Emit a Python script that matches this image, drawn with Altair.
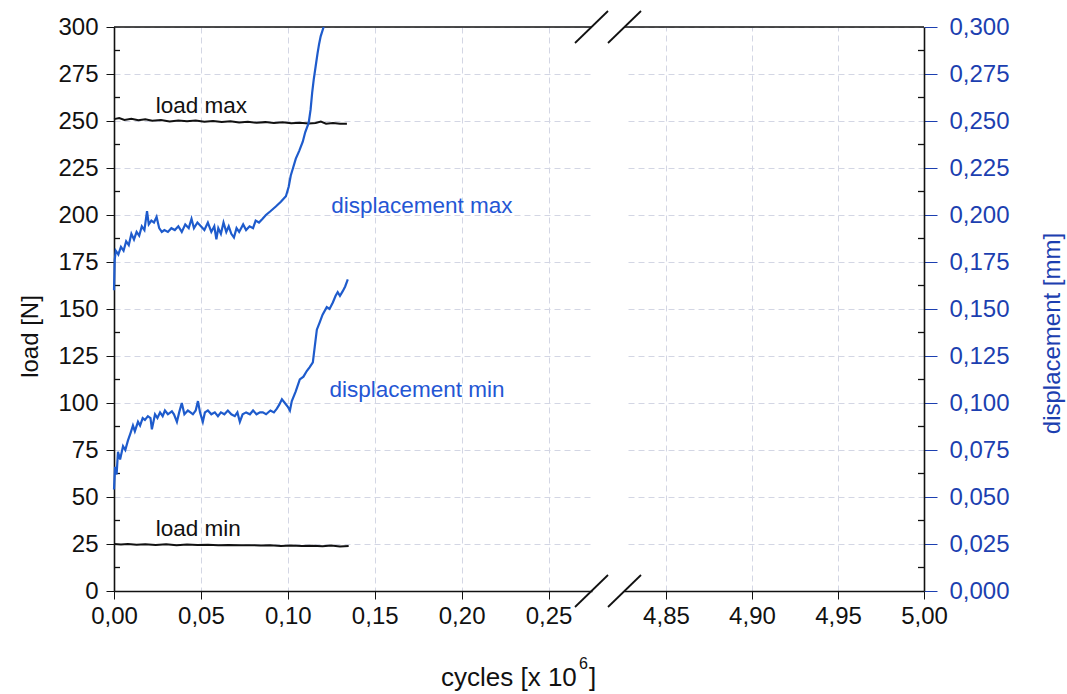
import altair as alt
import pandas as pd

# ---------------- data ----------------
load_max_cycles = [0.000, 0.003, 0.006, 0.010, 0.014, 0.018, 0.022, 0.027, 0.032, 0.037, 0.042, 0.047,
                   0.052, 0.057, 0.062, 0.067, 0.072, 0.077, 0.082, 0.087, 0.092, 0.097, 0.102, 0.107,
                   0.112, 0.116, 0.119, 0.122, 0.126, 0.130, 0.134]
load_max_vals = [251.0, 251.6, 250.6, 251.2, 250.4, 250.9, 250.2, 250.5, 249.8, 250.3, 249.9, 250.2,
                 249.6, 250.0, 249.5, 249.9, 249.2, 249.6, 249.1, 249.4, 248.9, 249.3, 248.8, 249.1,
                 248.7, 248.9, 249.7, 248.6, 248.9, 248.5, 248.6]

load_min_cycles = [0.000, 0.004, 0.008, 0.013, 0.018, 0.024, 0.030, 0.036, 0.042, 0.048, 0.054, 0.060,
                   0.066, 0.072, 0.078, 0.084, 0.090, 0.096, 0.102, 0.108, 0.114, 0.120, 0.125, 0.130, 0.135]
load_min_vals = [25.0, 24.7, 25.0, 24.6, 24.9, 24.5, 24.8, 24.4, 24.7, 24.5, 24.6, 24.3,
                 24.5, 24.3, 24.4, 24.2, 24.3, 24.0, 24.2, 24.0, 24.1, 23.8, 24.2, 23.7, 24.0]

disp_max_cycles = [0.0000, 0.0004, 0.0010, 0.0025, 0.0040, 0.0055, 0.0070, 0.0085, 0.0100, 0.0115,
                   0.0130, 0.0145, 0.0160, 0.0175, 0.0190, 0.0200, 0.0215, 0.0230, 0.0245, 0.0260,
                   0.0275, 0.0290, 0.0310, 0.0330, 0.0350, 0.0370, 0.0390, 0.0410, 0.0430, 0.0446,
                   0.0460, 0.0480, 0.0500, 0.0520, 0.0540, 0.0560, 0.0577, 0.0589, 0.0600, 0.0615,
                   0.0630, 0.0646, 0.0660, 0.0675, 0.0690, 0.0705, 0.0720, 0.0743, 0.0760, 0.0780,
                   0.0800, 0.0815, 0.0834, 0.0855, 0.0874, 0.0900, 0.0931, 0.0960, 0.0989, 0.1005,
                   0.1017, 0.1030, 0.1046, 0.1065, 0.1086, 0.1100, 0.1120, 0.1131, 0.1140, 0.1149,
                   0.1160, 0.1171, 0.1180, 0.1189, 0.1206]
disp_max_vals = [0.160, 0.176, 0.181, 0.179, 0.183, 0.181, 0.186, 0.184, 0.190, 0.187,
                 0.191, 0.189, 0.194, 0.192, 0.202, 0.195, 0.197, 0.196, 0.199, 0.193,
                 0.191, 0.192, 0.191, 0.193, 0.192, 0.194, 0.191, 0.195, 0.193, 0.198,
                 0.193, 0.196, 0.194, 0.192, 0.196, 0.191, 0.194, 0.187, 0.193, 0.190,
                 0.196, 0.191, 0.194, 0.190, 0.188, 0.193, 0.191, 0.195, 0.192, 0.194,
                 0.193, 0.197, 0.196, 0.198, 0.200, 0.202, 0.2045, 0.207, 0.210, 0.215,
                 0.221, 0.225, 0.230, 0.234, 0.239, 0.244, 0.249, 0.256, 0.265, 0.272,
                 0.279, 0.286, 0.291, 0.295, 0.300]

disp_min_cycles = [0.0000, 0.0006, 0.0015, 0.0023, 0.0035, 0.0052, 0.0065, 0.0080, 0.0095, 0.0109,
                   0.0120, 0.0138, 0.0150, 0.0165, 0.0178, 0.0195, 0.0210, 0.0218, 0.0236, 0.0250,
                   0.0265, 0.0280, 0.0293, 0.0310, 0.0333, 0.0345, 0.0362, 0.0375, 0.0390, 0.0405,
                   0.0425, 0.0440, 0.0454, 0.0470, 0.0483, 0.0495, 0.0511, 0.0523, 0.0540, 0.0560,
                   0.0580, 0.0598, 0.0615, 0.0635, 0.0655, 0.0675, 0.0695, 0.0710, 0.0724, 0.0740,
                   0.0760, 0.0782, 0.0800, 0.0820, 0.0840, 0.0856, 0.0875, 0.0900, 0.0920, 0.0937,
                   0.0950, 0.0966, 0.0983, 0.1000, 0.1012, 0.1023, 0.1045, 0.1069, 0.1090, 0.1109,
                   0.1125, 0.1144, 0.1155, 0.1167, 0.1184, 0.1200, 0.1224, 0.1240, 0.1259, 0.1275,
                   0.1287, 0.1300, 0.1316, 0.1330, 0.1345]
disp_min_vals = [0.054, 0.066, 0.062, 0.074, 0.070, 0.077, 0.075, 0.080, 0.084, 0.088,
                 0.085, 0.090, 0.088, 0.092, 0.091, 0.093, 0.092, 0.086, 0.094, 0.092,
                 0.095, 0.093, 0.096, 0.094, 0.0956, 0.094, 0.090, 0.095, 0.100, 0.094,
                 0.096, 0.095, 0.094, 0.096, 0.101, 0.095, 0.090, 0.095, 0.096, 0.094,
                 0.095, 0.093, 0.095, 0.094, 0.096, 0.094, 0.093, 0.095, 0.090, 0.094,
                 0.095, 0.094, 0.096, 0.094, 0.095, 0.095, 0.094, 0.096, 0.095, 0.097,
                 0.099, 0.102, 0.100, 0.098, 0.096, 0.101, 0.106, 0.1126, 0.114, 0.117,
                 0.119, 0.1216, 0.130, 0.139, 0.143, 0.147, 0.151, 0.150, 0.1535, 0.157,
                 0.159, 0.157, 0.1595, 0.162, 0.1657]

load_ticks = [0, 25, 50, 75, 100, 125, 150, 175, 200, 225, 250, 275, 300]
load_minor = [12.5, 37.5, 62.5, 87.5, 112.5, 137.5, 162.5, 187.5, 212.5, 237.5, 262.5, 287.5]
disp_ticks = [0.0, 0.025, 0.05, 0.075, 0.1, 0.125, 0.15, 0.175, 0.2, 0.225, 0.25, 0.275, 0.3]
disp_minor = [0.0125, 0.0375, 0.0625, 0.0875, 0.1125, 0.1375, 0.1625, 0.1875, 0.2125, 0.2375, 0.2625, 0.2875]
x_left_ticks = [0.0, 0.05, 0.10, 0.15, 0.20, 0.25]
x_right_ticks = [4.85, 4.90, 4.95, 5.00]

load_labels = ["load max", "load min"]
load_label_cycles = [0.024, 0.024]
load_label_vals = [258, 33]
disp_labels = ["displacement max", "displacement min"]
disp_label_cycles = [0.125, 0.124]
disp_label_vals = [0.205, 0.107]

x_title_parts = ["cycles [x 10", "6", "]"]

# ---------------- styling ----------------
FONT = "Liberation Sans"
BLUE_LINE = "#1e5bcc"
BLUE_TEXT = "#2456d4"
BLUE_AXIS = "#1c3fb0"
BLACK = "#111111"
GRID = "#d3d6e4"
W1, W2, H = 478, 300, 564
LEFT_DOMAIN = [0.0, 0.275]
RIGHT_DOMAIN = [4.8256, 5.0]
TICK_FS = 24


def fmt(d):
    return f"replace(format(datum.value, '.{d}f'), '.', ',')"


df_load = pd.concat([
    pd.DataFrame({"cycles": load_max_cycles, "load": load_max_vals, "s": "max"}),
    pd.DataFrame({"cycles": load_min_cycles, "load": load_min_vals, "s": "min"}),
])
df_disp = pd.concat([
    pd.DataFrame({"cycles": disp_max_cycles, "disp": disp_max_vals, "s": "max"}),
    pd.DataFrame({"cycles": disp_min_cycles, "disp": disp_min_vals, "s": "min"}),
])
df_load_lab = pd.DataFrame({"t": load_labels, "cycles": load_label_cycles, "load": load_label_vals})
df_disp_lab = pd.DataFrame({"t": disp_labels, "cycles": disp_label_cycles, "disp": disp_label_vals})
df_load_minor = pd.DataFrame({"load": load_minor})
df_disp_minor = pd.DataFrame({"disp": disp_minor})
df_xr = pd.DataFrame({"cycles": x_right_ticks})

load_scale = alt.Scale(domain=[0, 300], nice=False, zero=False)
disp_scale = alt.Scale(domain=[0, 0.3], nice=False, zero=False)
xl_scale = alt.Scale(domain=LEFT_DOMAIN, nice=False, zero=False)
xr_scale = alt.Scale(domain=RIGHT_DOMAIN, nice=False, zero=False)

common_axis = dict(labelFont=FONT, labelFontSize=TICK_FS, titleFont=FONT, titleFontWeight="normal",
                   gridColor=GRID, gridDash=[6, 4], gridWidth=1, domainWidth=1.6, labelFlush=False)

x_left_axis = alt.Axis(values=x_left_ticks, labelExpr=fmt(2), title=None,
                       grid=True, domainColor=BLACK, tickColor=BLACK, tickSize=8,
                       labelPadding=5, labelColor=BLACK, **common_axis)
y_load_axis = alt.Axis(values=load_ticks, title="load [N]", titleFontSize=24, titleColor=BLACK,
                       titleAngle=270, titleX=-84, titleY=309, titleAlign="center",
                       titleBaseline="middle", grid=True, domainColor=BLACK, tickColor=BLACK,
                       tickSize=8, labelPadding=8, labelColor=BLACK, **common_axis)

# ---------- left panel ----------
load_lines = alt.Chart(df_load).mark_line(color=BLACK, strokeWidth=2).encode(
    x=alt.X("cycles:Q", scale=xl_scale, axis=x_left_axis),
    y=alt.Y("load:Q", scale=load_scale, axis=y_load_axis),
    detail="s:N",
)
load_text = alt.Chart(df_load_lab).mark_text(font=FONT, fontSize=22.5, align="left",
                                             baseline="middle", color=BLACK).encode(
    x=alt.X("cycles:Q", scale=xl_scale),
    y=alt.Y("load:Q", scale=load_scale),
    text="t:N",
)
load_minor_ticks = alt.Chart(df_load_minor).mark_rule(color=BLACK, strokeWidth=1.3).encode(
    y=alt.Y("load:Q", scale=load_scale),
    x=alt.value(0), x2=alt.value(6),
)
top_left = alt.Chart().mark_rule(color=BLACK, strokeWidth=1.6).encode(
    x=alt.value(0), x2=alt.value(W1), y=alt.value(0)
)
# x-axis title with a real superscript
title_main = alt.Chart().mark_text(font=FONT, fontSize=26, align="left", baseline="alphabetic",
                                   color=BLACK, text=x_title_parts[0]).encode(
    x=alt.value(327), y=alt.value(659))
title_sup = alt.Chart().mark_text(font=FONT, fontSize=16, align="left", baseline="alphabetic",
                                  color=BLACK, text=x_title_parts[1]).encode(
    x=alt.value(465), y=alt.value(642))
title_end = alt.Chart().mark_text(font=FONT, fontSize=26, align="left", baseline="alphabetic",
                                  color=BLACK, text=x_title_parts[2]).encode(
    x=alt.value(475), y=alt.value(659))

load_group = alt.layer(load_lines, load_text, load_minor_ticks, top_left,
                       title_main, title_sup, title_end)

disp_lines = alt.Chart(df_disp).mark_line(color=BLUE_LINE, strokeWidth=2.2).encode(
    x=alt.X("cycles:Q", scale=xl_scale),
    y=alt.Y("disp:Q", scale=disp_scale, axis=None),
    detail="s:N",
)
disp_text = alt.Chart(df_disp_lab).mark_text(font=FONT, fontSize=22.5, align="left",
                                             baseline="middle", color=BLUE_TEXT).encode(
    x=alt.X("cycles:Q", scale=xl_scale),
    y=alt.Y("disp:Q", scale=disp_scale, axis=None),
    text="t:N",
)
disp_group = alt.layer(disp_lines, disp_text)

left = alt.layer(load_group, disp_group).resolve_scale(y="independent").properties(
    width=W1, height=H)

# ---------- right panel ----------
x_right_axis = alt.Axis(values=x_right_ticks, labelExpr=fmt(2), title=None, grid=True,
                        domainColor=BLACK, tickColor=BLACK, tickSize=8, labelPadding=5,
                        labelColor=BLACK, **common_axis)
y_disp_axis = alt.Axis(values=disp_ticks, labelExpr=fmt(3), orient="right",
                       title="displacement [mm]", titleFontSize=24, titleColor=BLUE_AXIS,
                       titleAngle=270, titleX=128, titleY=306, titleAlign="center",
                       titleBaseline="middle", grid=True,
                       domainColor=BLACK, tickColor=BLUE_AXIS,
                       tickSize=13, labelPadding=12, labelColor=BLUE_AXIS, **common_axis)

right_x_carrier = alt.Chart(df_xr).mark_point(opacity=0).encode(
    x=alt.X("cycles:Q", scale=xr_scale, axis=x_right_axis),
)
right_minor = alt.Chart(df_disp_minor).mark_rule(color=BLACK, strokeWidth=1.3).encode(
    y=alt.Y("disp:Q", scale=disp_scale, axis=y_disp_axis),
    x=alt.value(W2 - 6), x2=alt.value(W2),
)
top_right = alt.Chart().mark_rule(color=BLACK, strokeWidth=1.6).encode(
    x=alt.value(0), x2=alt.value(W2), y=alt.value(0)
)
slashes = [
    alt.Chart().mark_rule(color=BLACK, strokeWidth=1.8).encode(
        x=alt.value(x0), x2=alt.value(x0 + 33), y=alt.value(yb + 16), y2=alt.value(yb - 16))
    for x0 in (-49, -16) for yb in (0, H)
]
right = alt.layer(right_x_carrier, right_minor, top_right, *slashes).properties(width=W2, height=H)

chart = alt.hconcat(left, right, spacing=32, bounds="flush").properties(
    padding={"left": 18, "top": 10, "right": 3, "bottom": 2},
    background="white",
).configure_view(stroke=None)

chart.save("out.html", embed_options={"renderer": "svg", "actions": False})
